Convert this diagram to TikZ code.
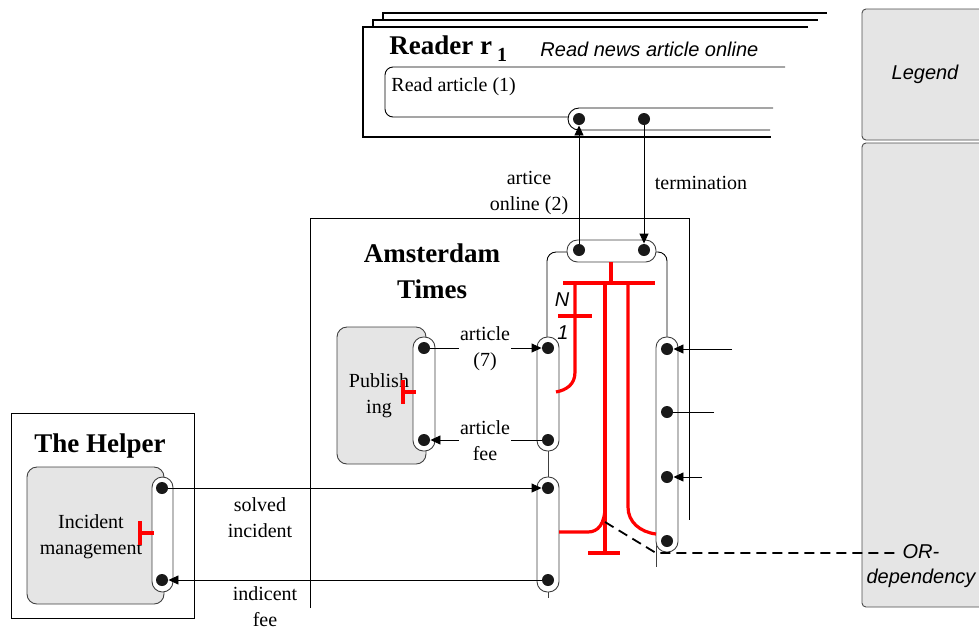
\documentclass[tikz,border=0pt]{standalone}
\usepackage{fontspec}
\setmainfont{Liberation Serif}
\newfontfamily\arialf{Liberation Sans}
\usetikzlibrary{arrows.meta}
\begin{document}
\begin{tikzpicture}[x=1pt,y=-1pt,
  line width=0.9pt,
  port/.style={circle,fill=black!90,draw=none,inner sep=0pt,minimum size=12pt},
  capsule/.style={draw=black!75,fill=white,rounded corners=10.5pt,inner sep=0pt,minimum width=22pt},
  grayproc/.style={draw=black!75,fill=black!10,rounded corners=10pt,inner sep=0pt},
  lbl/.style={font=\fontsize{20}{26}\selectfont,align=center,inner sep=1pt},
  ttl/.style={font=\fontsize{27}{36}\selectfont\bfseries,inner sep=0pt},
  sit/.style={font=\arialf\itshape\fontsize{20}{25}\selectfont,align=center,inner sep=0pt},
  arr/.style={-{Triangle[length=10pt,width=9pt]}},
  redl/.style={draw=red,line width=3.2pt},
]
\useasboundingbox (0,0) rectangle (979,630);

% ---------- Legend ----------
\draw[draw=black!70,fill=black!10,rounded corners=4pt] (862,9) rectangle (995,140);
\draw[draw=black!70,fill=black!10,rounded corners=4pt] (862,143) rectangle (995,607);
\node[sit] (leg) at (925,74) {Legend};
\node[sit] (ordep) at (921,566) {OR-\\dependency};

% ---------- Reader ----------
\draw[line width=1.2pt] (383,20) -- (383,13) -- (827,13);
\draw[line width=1.2pt] (373,27) -- (373,20) -- (818,20);
\draw[line width=1.2pt] (808,27) -- (363,27) -- (363,137) -- (771,137);
\draw[rounded corners=8pt] (785,67) -- (385,67) -- (385,117) -- (568,117);
\draw (773,108) -- (579,108) arc[start angle=-90,end angle=-270,radius=11] -- (770,130);
\node[port] (r1) at (579,119) {};
\node[port] (r2) at (644,119) {};
\node[ttl,anchor=base west] (rdr) at (389,54) {Reader r\hspace{5pt}\raisebox{-7pt}{\fontsize{20}{20}\selectfont 1}};
\node[sit,anchor=base west] (rdt) at (540,56) {Read news article online};
\node[lbl,anchor=base west] (ra) at (390,91) {Read article (1)};

% ---------- Amsterdam Times ----------
\draw (310,608) -- (310,218) -- (689,218) -- (689,520);
\node[ttl,anchor=base] (at1) at (432,262) {Amsterdam};
\node[ttl,anchor=base] (at2) at (432,298) {Times};

\draw[rounded corners=9pt] (570,252) -| (547,340);
\draw[rounded corners=9pt] (653,252) -| (667,340);

\node[capsule,minimum width=89pt,minimum height=22pt] (atop) at (611.5,251) {};
\node[port] (a1) at (579,250) {};
\node[port] (a2) at (644,250) {};

\node[capsule,minimum height=114pt] (lc1) at (548,394) {};
\node[capsule,minimum height=115pt] (lc2) at (548,534.5) {};
\draw[draw=black!75] (lc1.south) -- (lc2.north);
\coordinate (lc2end) at (548,598);
\draw[draw=black!75] (lc2.south) -- (lc2end);
\node[port] (l1) at (548,348) {};
\node[port] (l2) at (548,440) {};
\node[port] (l3) at (548,488) {};
\node[port] (l4) at (548,580) {};

\coordinate (rcl1) at (656,540);
\coordinate (rcl2) at (656,567);
\draw[draw=black!75] (rcl1) -- (rcl2);
\node[capsule,minimum height=215pt] (rc) at (667,444.5) {};
\node[port] (p1) at (667,349) {};
\node[port] (p2) at (667,412) {};
\node[port] (p3) at (667,477) {};
\node[port] (p4) at (667,541) {};
\coordinate (in1) at (732,349);
\coordinate (in2) at (714,412);
\coordinate (in3) at (702,477);
\draw[arr] (in1) -- (p1);
\draw (in2) -- (p2);
\draw[arr] (in3) -- (p3);

% connectors reader <-> AT
\draw[arr] (a1) -- (r1);
\draw[arr] (r2) -- (a2);
\node[lbl] (lab1) at (529,193) {artice\\online (2)};
\node[lbl] (lab2) at (701,183) {termination};

% ---------- Publishing ----------
\node[grayproc,minimum width=89pt,minimum height=137pt] (pub) at (381.5,395.5) {};
\node[lbl] (pubt) at (379,396) {Publish\\ing};
\node[capsule,minimum height=114pt] (pc) at (424,394) {};
\node[port] (q1) at (424,348) {};
\node[port] (q2) at (424,440) {};
\draw[redl] (403,380) -- (403,404);
\draw[redl] (403,392) -- (416,392);

\draw[arr] (q1) -- (l1);
\draw[arr] (l2) -- (q2);
\node[lbl,fill=white] (lab3) at (485,349) {article\\(7)};
\node[lbl,fill=white] (lab4) at (485,441) {article\\fee};

% ---------- The Helper ----------
\node[draw,minimum width=183pt,minimum height=205pt,inner sep=0pt] (helper) at (102.5,515.5) {};
\node[ttl,anchor=base] (ht) at (100,452) {The Helper};
\node[grayproc,minimum width=137pt,minimum height=137pt] (inc) at (95.5,535.5) {};
\node[lbl] (inct) at (91,537) {Incident\\management};
\node[capsule,minimum width=21pt,minimum height=115pt] (hc) at (162.5,534.5) {};
\node[port] (h1) at (162,488) {};
\node[port] (h2) at (162,580) {};
\draw[redl] (140,521) -- (140,545);
\draw[redl] (140,533) -- (154,533);

\draw[arr] (h1) -- (l3);
\draw[arr] (l4) -- (h2);
\node[lbl] (lab5) at (260,518) {solved\\incident};
\node[lbl] (lab6) at (265,607) {indicent\\fee};

% ---------- red dependency structure ----------
\draw[redl] (611,262) -- (611,283);
\draw[redl] (563,283) -- (655,283);
\draw[redl] (575,283) -- (575,372) .. controls (575,385) and (566,390) .. (556,392);
\draw[redl] (558,316) -- (592,316);
\draw[redl] (605,283) -- (605,553);
\draw[redl] (588,553) -- (620,553);
\draw[redl] (605,506) .. controls (605,524) and (598,532) .. (588,532) -- (559,532);
\draw[redl] (628,283) -- (628,507) .. controls (628,522) and (640,532) .. (656,534);
\node[sit] (nl) at (562,300) {N};
\node[sit] (ol) at (563,333) {1};

% ---------- OR dependency dashed line ----------
\coordinate (dj) at (605,522);
\coordinate (dk) at (656,553);
\coordinate (de) at (895,553);
\draw[line width=1.8pt,dash pattern=on 10pt off 6pt] (dj) -- (dk) -- (de);
\end{tikzpicture}
\end{document}
